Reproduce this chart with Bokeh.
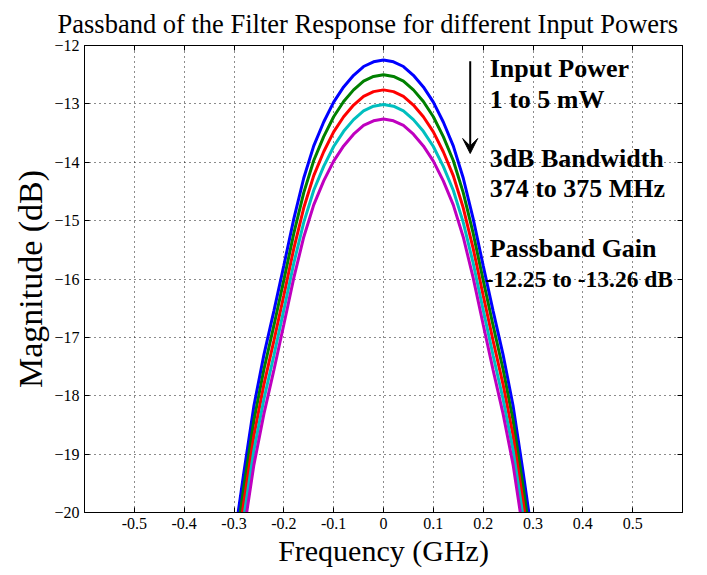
from bokeh.plotting import figure
from bokeh.models import (FixedTicker, LinearAxis, Label, Arrow, VeeHead, Range1d)
from bokeh.embed import file_html
from bokeh.resources import INLINE

# ---------------- data ----------------
freq_ghz = [-0.30, -0.28, -0.26, -0.24, -0.22, -0.20, -0.18, -0.16, -0.14, -0.12,
            -0.10, -0.08, -0.06, -0.04, -0.02, 0.00, 0.02, 0.04, 0.06, 0.08,
            0.10, 0.12, 0.14, 0.16, 0.18, 0.20, 0.22, 0.24, 0.26, 0.28, 0.30]

mag_1mw = [-20.50, -19.30, -18.17, -17.30, -16.55, -15.77, -14.97, -14.27, -13.72, -13.31,
           -12.97, -12.71, -12.51, -12.36, -12.28, -12.25, -12.28, -12.36, -12.51, -12.71,
           -12.97, -13.31, -13.72, -14.27, -14.97, -15.77, -16.55, -17.30, -18.17, -19.30, -20.50]
mag_2mw = [-20.75, -19.55, -18.42, -17.55, -16.80, -16.02, -15.22, -14.52, -13.97, -13.56,
           -13.22, -12.96, -12.76, -12.61, -12.53, -12.50, -12.53, -12.61, -12.76, -12.96,
           -13.22, -13.56, -13.97, -14.52, -15.22, -16.02, -16.80, -17.55, -18.42, -19.55, -20.75]
mag_3mw = [-21.01, -19.81, -18.68, -17.81, -17.06, -16.28, -15.48, -14.78, -14.23, -13.82,
           -13.48, -13.22, -13.02, -12.87, -12.79, -12.76, -12.79, -12.87, -13.02, -13.22,
           -13.48, -13.82, -14.23, -14.78, -15.48, -16.28, -17.06, -17.81, -18.68, -19.81, -21.01]
mag_4mw = [-21.26, -20.06, -18.93, -18.06, -17.31, -16.53, -15.73, -15.03, -14.48, -14.07,
           -13.73, -13.47, -13.27, -13.12, -13.04, -13.01, -13.04, -13.12, -13.27, -13.47,
           -13.73, -14.07, -14.48, -15.03, -15.73, -16.53, -17.31, -18.06, -18.93, -20.06, -21.26]
mag_5mw = [-21.51, -20.31, -19.18, -18.31, -17.56, -16.78, -15.98, -15.28, -14.73, -14.32,
           -13.98, -13.72, -13.52, -13.37, -13.29, -13.26, -13.29, -13.37, -13.52, -13.72,
           -13.98, -14.32, -14.73, -15.28, -15.98, -16.78, -17.56, -18.31, -19.18, -20.31, -21.51]

series = [mag_1mw, mag_2mw, mag_3mw, mag_4mw, mag_5mw]
series_colors = ["#0000ff", "#008000", "#ff0000", "#00bfbf", "#bf00bf"]

x_ticks = [-0.5, -0.4, -0.3, -0.2, -0.1, 0.0, 0.1, 0.2, 0.3, 0.4, 0.5]
x_tick_labels = ["-0.5", "-0.4", "-0.3", "-0.2", "-0.1", "0", "0.1", "0.2", "0.3", "0.4", "0.5"]
y_ticks = [-20, -19, -18, -17, -16, -15, -14, -13, -12]

title_text = "Passband of the Filter Response for different Input Powers"
notes = ["Input Power", "1 to 5 mW", "3dB Bandwidth", "374 to 375 MHz",
         "Passband Gain", "-12.25 to -13.26 dB"]

# ---------------- figure ----------------
FONT = "Times New Roman, Liberation Serif, serif"

p = figure(frame_width=598, frame_height=467,
           x_range=Range1d(-0.6, 0.6), y_range=Range1d(-20, -12),
           output_backend="svg", toolbar_location=None,
           min_border_left=84, min_border_right=25, min_border_top=45, min_border_bottom=55,
           background_fill_color="white", border_fill_color="white")

p.title.text = title_text
p.title.text_font = FONT
p.title.text_font_size = "26.5px"
p.title.text_font_style = "normal"
p.title.align = "left"
p.title.offset = -27
p.title.text_color = "black"
p.title.standoff = 13

p.outline_line_color = "black"
p.outline_line_width = 1

for s, c in zip(series, series_colors):
    p.line(freq_ghz, s, line_color=c, line_width=3)

# axes
p.xaxis.ticker = FixedTicker(ticks=x_ticks)
p.xaxis.major_label_overrides = {t: l for t, l in zip(x_ticks, x_tick_labels)}
p.yaxis.ticker = FixedTicker(ticks=y_ticks)
for ax in (p.xaxis, p.yaxis):
    ax.major_tick_in = 5
    ax.major_tick_out = 0
    ax.minor_tick_line_color = None
    ax.axis_line_color = "black"
    ax.major_tick_line_color = "black"
    ax.major_label_text_font = FONT
    ax.major_label_text_font_size = "16px"
    ax.major_label_text_color = "black"
    ax.axis_label_text_font = FONT
    ax.axis_label_text_font_style = "normal"
    ax.axis_label_text_color = "black"
p.xaxis.axis_label_text_font_size = "30px"
p.yaxis.axis_label_text_font_size = "34px"
p.xaxis.axis_label = "Frequency (GHz)"
p.yaxis.axis_label = "Magnitude (dB)"
p.xaxis.major_label_standoff = 5
p.yaxis.major_label_standoff = 5
p.xaxis.axis_label_standoff = 2
p.yaxis.axis_label_standoff = 2

top = LinearAxis(ticker=FixedTicker(ticks=x_ticks), major_tick_in=5, major_tick_out=0,
                 minor_tick_line_color=None,
                 major_label_overrides={t: "" for t in x_ticks},
                 major_label_text_font_size="1px",
                 major_label_standoff=0, axis_line_color="black")
right = LinearAxis(ticker=FixedTicker(ticks=y_ticks), major_tick_in=5, major_tick_out=0,
                   minor_tick_line_color=None,
                   major_label_overrides={t: "" for t in y_ticks},
                   major_label_text_font_size="1px",
                   major_label_standoff=0, axis_line_color="black")
p.add_layout(top, "above")
p.add_layout(right, "right")

# grid
for g in (p.xgrid[0], p.ygrid[0]):
    g.grid_line_color = "black"
    g.grid_line_dash = "1 4"
    g.grid_line_width = 1
    g.grid_line_alpha = 0.9
p.xgrid[0].ticker = FixedTicker(ticks=x_ticks)
p.ygrid[0].ticker = FixedTicker(ticks=y_ticks)

# annotations
note_pos = [(0.213, -12.39), (0.213, -12.93), (0.213, -13.94), (0.213, -14.45),
            (0.213, -15.47), (0.205, -16.00)]
note_sizes = ["26px", "26px", "26px", "26px", "26px", "23.5px"]
for t, (nx, ny), fs in zip(notes, note_pos, note_sizes):
    p.add_layout(Label(x=nx, y=ny, text=t, text_font=FONT, text_font_style="bold",
                       text_font_size=fs, text_color="black",
                       text_baseline="alphabetic", text_align="left"))

p.add_layout(Arrow(end=VeeHead(size=15, fill_color="black", line_color="black"),
                   x_start=0.174, y_start=-12.27, x_end=0.174, y_end=-13.85,
                   line_color="black", line_width=2))

open("out.html", "w").write(file_html(p, INLINE))
